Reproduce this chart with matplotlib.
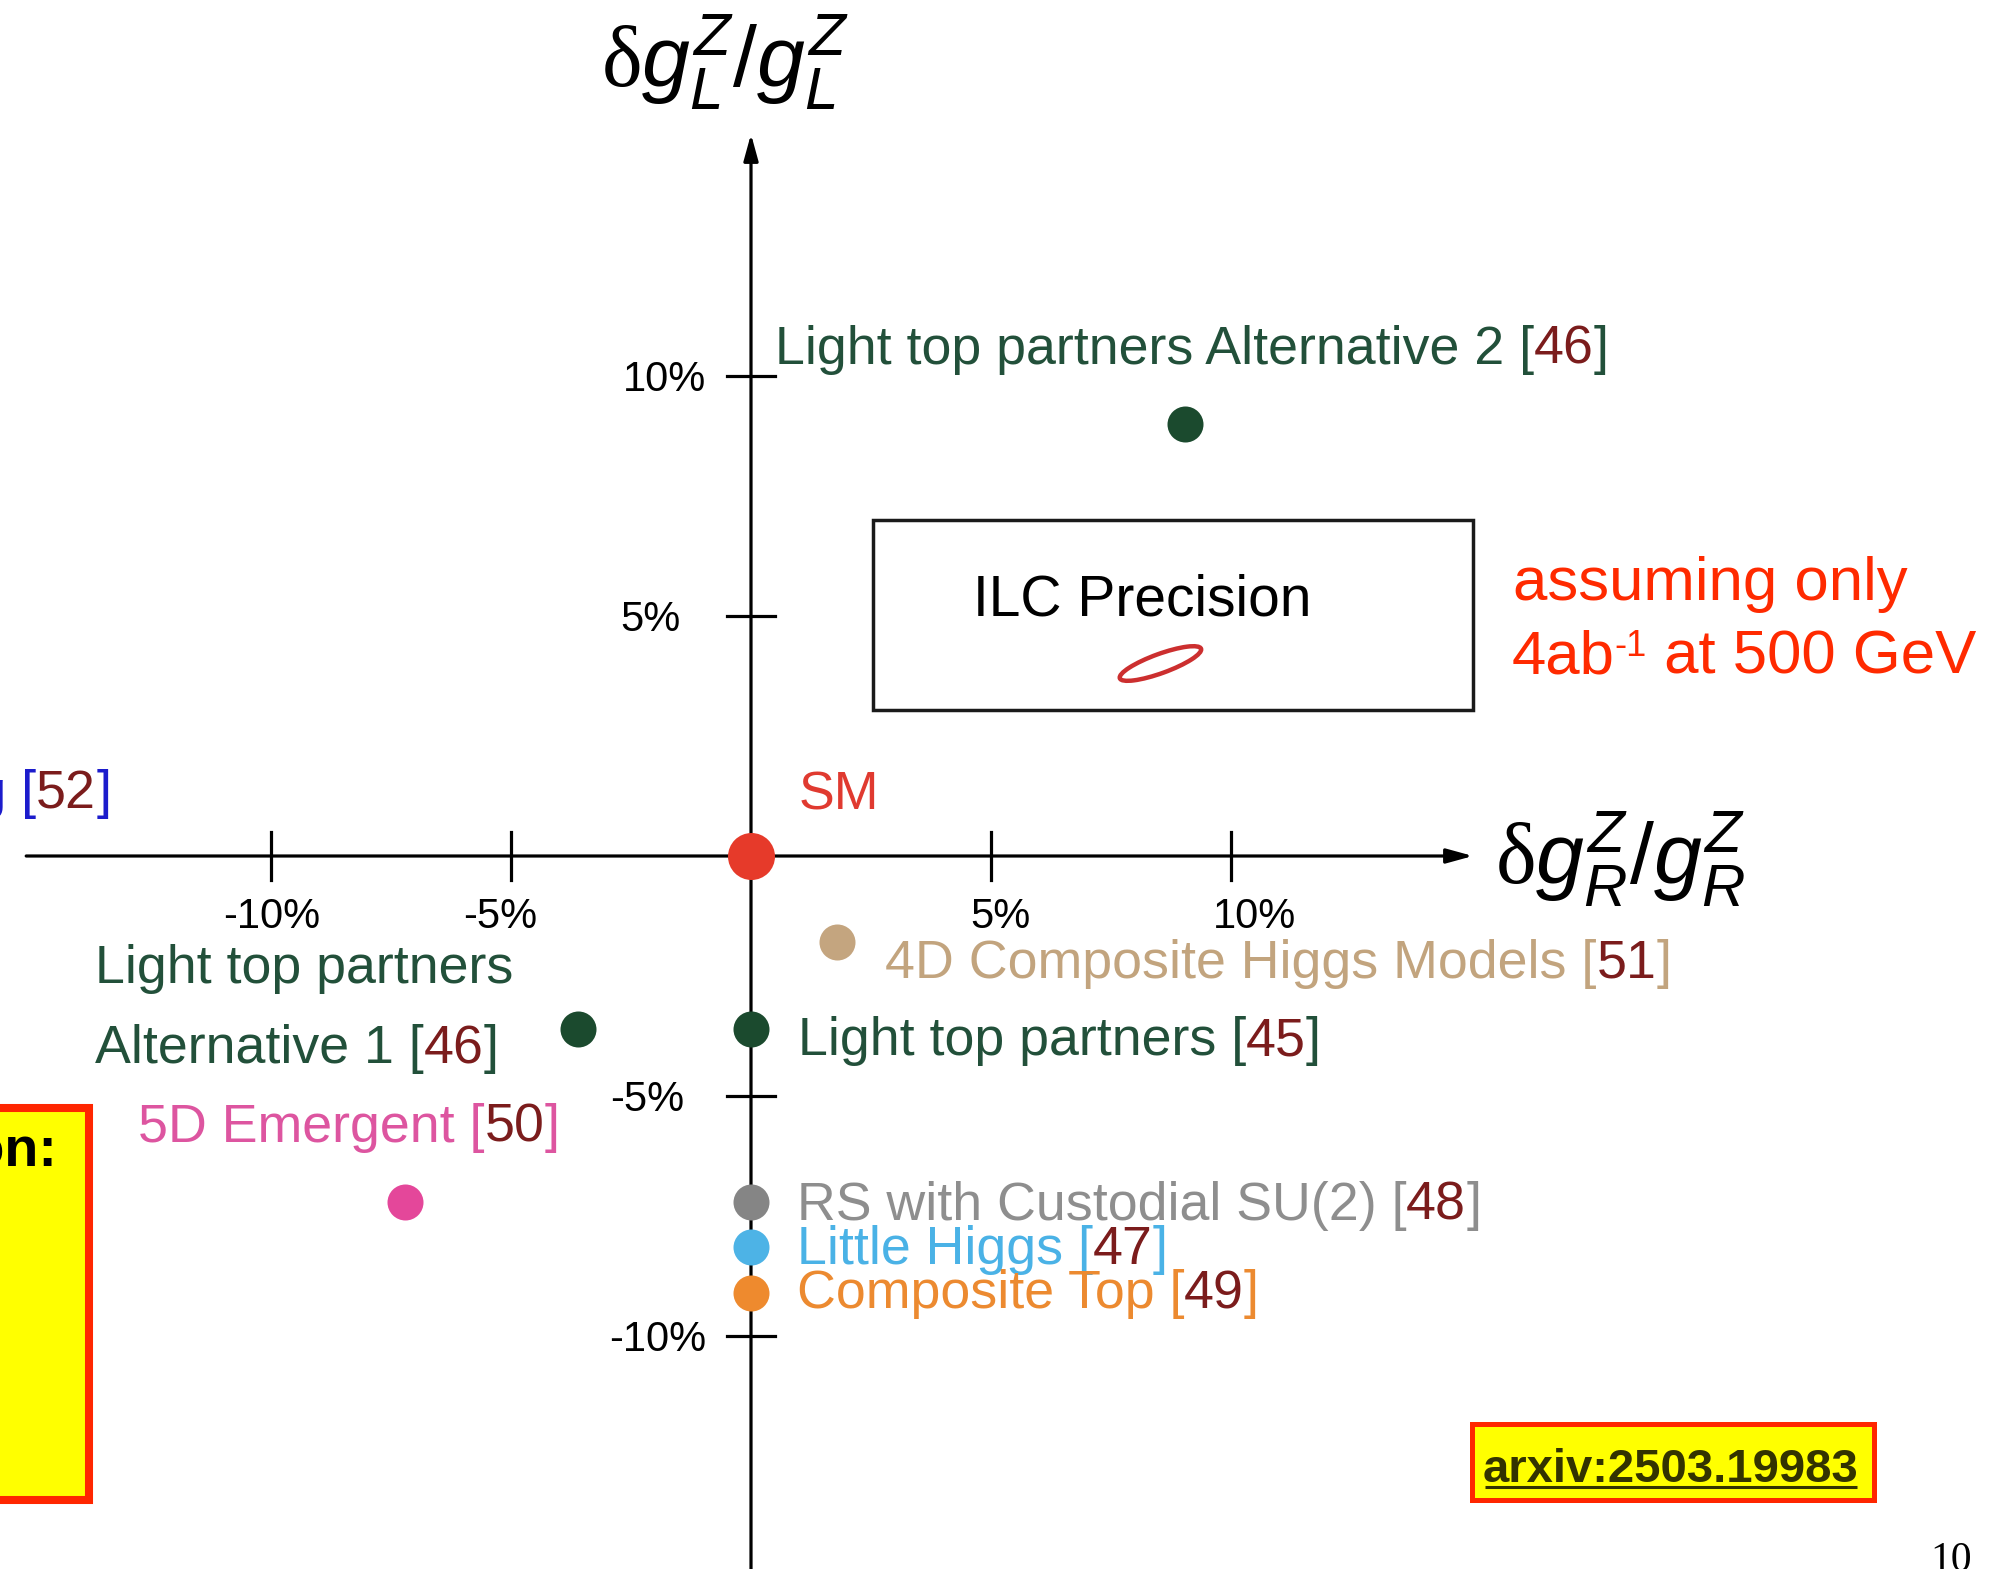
import numpy as np
import matplotlib.pyplot as plt
from matplotlib.patches import Rectangle, Ellipse

plt.rcParams['font.family'] = ['Liberation Sans', 'DejaVu Sans']
plt.rcParams['mathtext.fontset'] = 'custom'
plt.rcParams['mathtext.rm'] = 'Liberation Serif'
plt.rcParams['mathtext.it'] = 'Liberation Sans:italic'
plt.rcParams['mathtext.sf'] = 'Liberation Sans'

# model predictions: delta g_R/g_R (x) and delta g_L/g_L (y), in %
models = ['Light top partners Alternative 2', '4D Composite Higgs Models',
          'Light top partners', 'Light top partners\nAlternative 1',
          '5D Emergent', 'RS with Custodial SU(2)', 'Little Higgs',
          'Composite Top']
refs = ['46', '51', '45', '46', '50', '48', '47', '49']
dgR = [9.05, 1.8, 0.0, -3.6, -7.2, 0.0, 0.0, 0.0]
dgL = [9.0, -1.8, -3.6, -3.6, -7.2, -7.2, -8.15, -9.1]
dot_colors = ['#1b4a2e', '#c4a57f', '#1b4a2e', '#1b4a2e', '#e4479a',
              '#858585', '#4db3e6', '#ee8a2e']
txt_colors = ['#22503a', '#c2a47e', '#22503a', '#22503a', '#dd55a0',
              '#8e8e8e', '#4ab2e6', '#ec8a30']
# label anchors (left, baseline of last line)
lab_x = [0.49, 2.80, 0.97, -13.67, -12.77, 0.95, 0.95, 0.95]
lab_y = [10.26, -2.54, -4.15, -4.32, -5.95, -7.58, -8.51, -9.42]

ticks = [-10, -5, 5, 10]
tick_labels = ['-10%', '-5%', '5%', '10%']
xlab_pos = [-9.98, -5.22, 5.19, 10.5]
ylab_right = [-0.94, -1.40, -1.46, -0.94]

# ILC precision ellipse (centre, width, height, angle)
ilc_c = (8.53, 4.01)
ilc_w, ilc_h, ilc_ang = 1.80, 0.40, 20

FS = 38.7
REF_RED = '#7b1c1c'
PX = 48.0  # pixels per percent

fig = plt.figure(figsize=(19.95, 15.69), dpi=100)
ax = fig.add_axes([0, 0, 1, 1])
ax.set_xlim(-751 / PX, (1995 - 751) / PX)
ax.set_ylim((856 - 1569) / PX, 856 / PX)
ax.axis('off')

# axes with arrows
arrow = dict(arrowstyle='-|>,head_length=0.8,head_width=0.22', mutation_scale=20,
             lw=2.3, color='black', shrinkA=0, shrinkB=0)
ax.annotate('', xy=(15.04, 0), xytext=(-15.1, 0), arrowprops=arrow, zorder=1)
ax.annotate('', xy=(0, 15.04), xytext=(0, -15.5), arrowprops=arrow, zorder=1)
for v in ticks:
    ax.plot([v, v], [-0.49, 0.49], color='black', lw=2.3, zorder=1)
    ax.plot([-0.49, 0.49], [v, v], color='black', lw=2.3, zorder=1)
for v, s, xp, yr in zip(ticks, tick_labels, xlab_pos, ylab_right):
    ax.text(xp, -1.5, s, fontsize=30, ha='center', va='baseline')
    ax.text(yr, v - 0.32, s, fontsize=30, ha='right', va='baseline')

ax.text(-0.54, 16.0, r'$\mathrm{\delta}g^{Z}_{L}\mathsf{/}g^{Z}_{L}$', fontsize=62,
        ha='center', va='baseline')
ax.text(18.1, -0.58, r'$\mathrm{\delta}g^{Z}_{R}\mathsf{/}g^{Z}_{R}$', fontsize=62,
        ha='center', va='baseline')


def ref_label(x, y, name, ref, color):
    lines = name.split('\n')
    n = len(lines)
    for k, line in enumerate(lines[:-1]):
        ax.text(x, y + 1.67 * (n - 1 - k), line, color=color, fontsize=FS,
                va='baseline')
    t = ax.text(x, y, lines[-1] + ' [', color=color, fontsize=FS, va='baseline')
    t = ax.annotate(ref, xy=(1, 0), xycoords=t, color=REF_RED, fontsize=FS,
                    va='bottom')
    ax.annotate(']', xy=(1, 0), xycoords=t, color=color, fontsize=FS, va='bottom')


for i in range(len(models)):
    ax.scatter(dgR[i], dgL[i], s=672, color=dot_colors[i], lw=0, zorder=3)
    ref_label(lab_x[i], lab_y[i], models[i], refs[i], txt_colors[i])

# SM point
ax.scatter(0, 0, s=1145, color='#e63a2a', lw=0, zorder=4)
ax.text(1.0, 0.96, 'SM', color='#e03a30', fontsize=FS, va='baseline')

# label of model [52], cut by the slide edge
t = ax.text(-13.33, 1.0, ']', color='#1c1ccc', fontsize=FS, ha='right', va='baseline')
t = ax.annotate('52', xy=(0, 0), xycoords=t, color=REF_RED, fontsize=FS,
                ha='right', va='bottom')
ax.annotate('Top-Higgs mixing [', xy=(0, 0), xycoords=t, color='#1c1ccc',
            fontsize=FS, ha='right', va='bottom')

# ILC precision box
ax.add_patch(Rectangle((2.55, 3.04), 12.49, 3.96, fill=False, ec='#1a1a1a',
                       lw=2.5, zorder=2))
ax.text(8.16, 5.02, 'ILC Precision', fontsize=41, ha='center', va='baseline')
ax.add_patch(Ellipse(ilc_c, ilc_w, ilc_h, angle=ilc_ang, fill=False,
                     ec='#cc2f2f', lw=3.2, zorder=2))

RED = '#ff2a00'
ax.text(15.87, 5.33, 'assuming only', color=RED, fontsize=44.5, va='baseline')
t0 = ax.text(15.85, 3.81, '4ab', color=RED, fontsize=44.5, va='baseline')
t1 = ax.annotate('-1', xy=(1, 1), xycoords=t0, color=RED, fontsize=26,
                 va='top', ha='left')
ax.annotate(' at 500 GeV', xy=(1, 0), xycoords=(t1, t0), color=RED,
            fontsize=44.5, va='bottom', ha='left')

# left slide box (cut off)
ax.add_patch(Rectangle((-17, -13.42), 17 - 13.79, 8.17, fc='#ffff00',
                       ec='#ff2600', lw=5.8, zorder=2))
ax.text(-14.45, -6.44, 'Motivation:', fontsize=40, fontweight='bold',
        ha='right', va='baseline', zorder=3)

# arxiv reference box
ax.add_patch(Rectangle((15.03, -13.42), 8.36, 1.58, fc='#ffff00', ec='#ff2600',
                       lw=3.6, zorder=2))
t = ax.text(15.25, -13.04, 'arxiv:2503.19983', fontsize=34, fontweight='bold',
            color='#333300', va='baseline', zorder=3)
fig.canvas.draw()
bb = t.get_window_extent(fig.canvas.get_renderer()).transformed(ax.transData.inverted())
ax.plot([bb.x0 + 0.04, bb.x1 - 0.04], [-13.15, -13.15], color='#333300', lw=2.2,
        zorder=3, solid_capstyle='butt')

# page number
ax.text(24.58, -14.9, '10', fontsize=30, family='Liberation Serif', va='baseline')

fig.savefig('out.png', dpi=100)
